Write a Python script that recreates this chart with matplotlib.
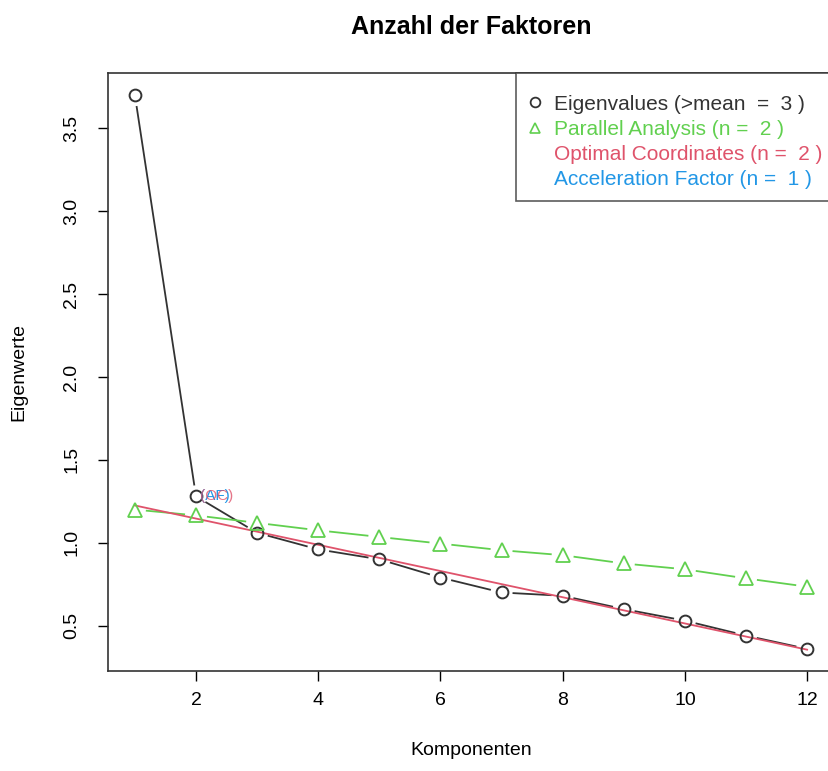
import numpy as np
import matplotlib.pyplot as plt
from matplotlib.lines import Line2D

plt.rcParams['font.family'] = ['Liberation Sans', 'DejaVu Sans']

# data
komponenten = np.arange(1, 13)
eigenwerte = [3.70, 1.28, 1.06, 0.96, 0.90, 0.79, 0.70, 0.68, 0.60, 0.53, 0.44, 0.36]
parallel = [1.20, 1.165, 1.12, 1.075, 1.035, 0.995, 0.955, 0.925, 0.875, 0.84, 0.785, 0.735]
oc_x = [1, 12]
oc_y = [1.225, 0.355]
legend_labels = ["Eigenvalues (>mean  =  3 )", "Parallel Analysis (n =  2 )",
                 "Optimal Coordinates (n =  2 )", "Acceleration Factor (n =  1 )"]

black = "#333333"
green = "#61D04F"
red = "#DF536B"
blue = "#2297E6"

fig = plt.figure(figsize=(8.29, 7.71), dpi=100)
ax = fig.add_axes([108 / 829, 100 / 771, 726 / 829, 598 / 771])

ymin, ymax = min(eigenwerte), max(eigenwerte)
pad = (ymax - ymin) * 0.04
ax.set_xlim(1 - 11 * 0.04, 12 + 11 * 0.04)
ax.set_ylim(ymin - pad, ymax + pad)


def type_b(xs, ys, color, gap=11, lw=1.3):
    # R style type="b": segments stop short of each point
    pts = ax.transData.transform(np.column_stack([xs, ys]))
    inv = ax.transData.inverted()
    for p0, p1 in zip(pts[:-1], pts[1:]):
        d = p1 - p0
        length = np.hypot(*d)
        if length <= 2 * gap:
            continue
        u = d / length
        a = inv.transform(p0 + u * gap)
        b = inv.transform(p1 - u * gap)
        ax.plot([a[0], b[0]], [a[1], b[1]], color=color, lw=lw, solid_capstyle='butt')


type_b(komponenten, eigenwerte, black)
type_b(komponenten, parallel, green)
ax.plot(oc_x, oc_y, color=red, lw=1.3)

ax.plot(komponenten, eigenwerte, 'o', ms=8.5, mfc='none', mec=black, mew=1.4)
ax.plot(komponenten, parallel, '^', ms=9.5, mfc='none', mec=green, mew=1.3)

ax.text(2.07, eigenwerte[1], "(AF)", color=blue, fontsize=11, va='center', ha='left')
ax.text(2.07, eigenwerte[1], "(OC)", color=red, fontsize=11, va='center', ha='left', alpha=0.8)

ax.set_xticks([2, 4, 6, 8, 10, 12])
ax.set_yticks([0.5, 1.0, 1.5, 2.0, 2.5, 3.0, 3.5])
ax.tick_params(axis='both', direction='out', length=7, width=1, labelsize=14, colors='black', pad=8)
ax.tick_params(axis='y', pad=13)
for lab in ax.get_yticklabels():
    lab.set_rotation(90)
    lab.set_va('center')
for s in ax.spines.values():
    s.set_color('#333333')
    s.set_linewidth(1.2)

ax.set_xlabel("Komponenten", fontsize=14, labelpad=24)
ax.set_ylabel("Eigenwerte", fontsize=14, labelpad=26)
fig.text(471 / 829, 1 - 27 / 771, "Anzahl der Faktoren", fontsize=18, fontweight='bold',
         ha='center', va='center')

handles = [
    Line2D([], [], marker='o', ls='none', ms=7, mfc='none', mec=black, mew=1.3),
    Line2D([], [], marker='^', ls='none', ms=7, mfc='none', mec=green, mew=1.2),
    Line2D([], [], ls='none'),
    Line2D([], [], ls='none'),
]
leg = ax.legend(handles, legend_labels, loc='upper right', bbox_to_anchor=(1.0, 1.0),
                fontsize=15, labelcolor=[black, green, red, blue], frameon=True, fancybox=False,
                handlelength=0.8, handletextpad=0.5, borderpad=0.55, labelspacing=0.3,
                borderaxespad=0, title=" ", title_fontsize=2)
leg.get_frame().set_edgecolor('#333333')
leg.get_frame().set_linewidth(1.2)

fig.savefig("out.png", dpi=100)
